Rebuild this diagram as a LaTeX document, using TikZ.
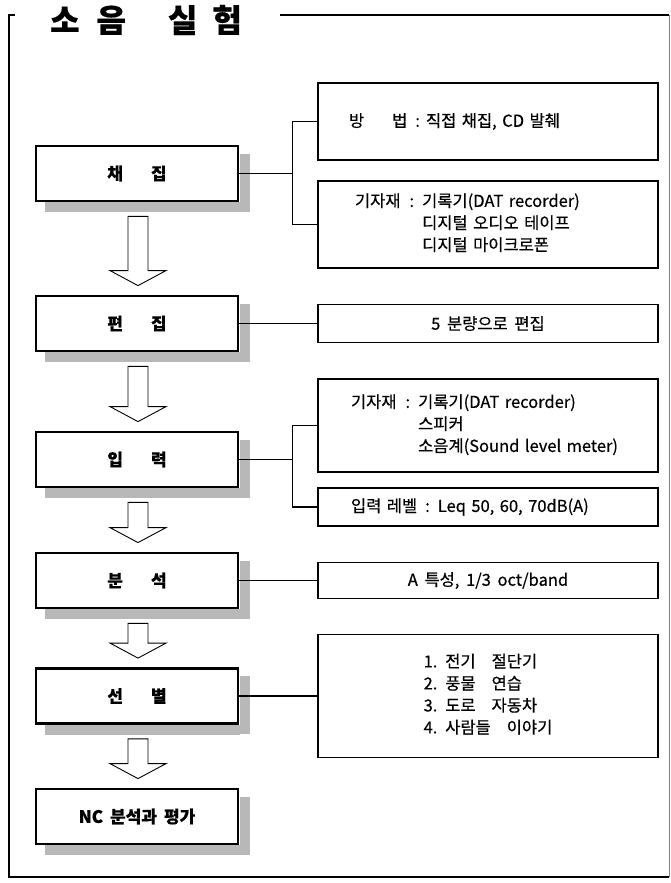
\documentclass[tikz,border=0pt]{standalone}
\usepackage{fontspec}
\setmainfont{Noto Sans CJK KR}[WordSpace=1.8,FakeBold=0.5]
\usepackage{tikz}
\usetikzlibrary{calc}
\usetikzlibrary{positioning}

\definecolor{shadowgrey}{gray}{0.72}

\newcommand{\flowarrow}[2]{%
  \draw[hollow arrow] let \p1=($(#1.south)+(1,14)$), \p2=($(#2.north)+(1,-9)$) in
    (\x1-10,\y1) -- (\x1+10,\y1) -- (\x1+10,\y2+15) -- (\x1+28,\y2+15)
    -- (\x1,\y2) -- (\x1-28,\y2+15) -- (\x1-10,\y2+15) -- cycle;}

\begin{document}
\begin{tikzpicture}[
    x=1pt, y=-1pt,
    every node/.style={font=\fontsize{16.5}{22}\selectfont},
    stagebox/.style={draw, line width=2.8pt, fill=white, minimum width=202,
      minimum height=55, font=\fontsize{17}{20}\selectfont\bfseries},
    infobox/.style={draw, line width=1.3pt, minimum width=340},
    link/.style={line width=1.3pt},
    shadowband/.style={draw=shadowgrey, line width=10pt},
    hollow arrow/.style={draw, fill=white, line width=0.9pt, line join=miter},
  ]
  \useasboundingbox (0,0) rectangle (671,883);

  % frame and title
  \node[font=\fontsize{32}{34}\selectfont\bfseries] (title) at (146,20)
    {소\hspace{17pt}음\hspace{42pt}실\hspace{15pt}험};
  \draw[line width=1.3pt] (669,15) -- (280,15);
  \draw[line width=1.3pt] (669,877) -- (9,877) -- (9,15) -- (15,15);
  \draw[line width=0.8pt, gray] (669,15) -- (669,877);

  % stages
  \node[stagebox] (chaejip)   at (137,173.5) {채\hspace{28pt}집};
  \node[stagebox] (pyeonjip)  at (137,323.5) {편\hspace{28pt}집};
  \node[stagebox] (ipryeok)   at (137,459.5) {입\hspace{28pt}력};
  \node[stagebox] (bunseok)   at (137,580.5) {분\hspace{28pt}석};
  \node[stagebox] (seonbyeol) at (137,696)   {선\hspace{28pt}별};
  \node[stagebox] (pyeongga)  at (137,816.5) {NC 분석과 평가};

  % shadows of the stages
  \foreach \ym in {173.5,323.5,459.5,580.5,696,816.5} {
    \draw[shadowband] (244.5,\ym-20) -- (244.5,\ym+38);
    \draw[shadowband] (45,\ym+33.5) -- (239.5,\ym+33.5);
  }

  % details
  \node[infobox, minimum height=77, text width=278, align=left] (bangbeop) at (488,121.5)
    {방\hspace{28pt}법\hspace{8pt}:\hspace{6pt}직접 채집, CD 발췌};
  \node[infobox, minimum height=87, text width=266, align=left] (gijajae) at (488,224.5)
    {\begin{tabular}{@{}l@{\hspace{8pt}}l@{}}
      기자재\hspace{9pt}: & 기록기(DAT recorder)\\
               & 디지털 오디오 테이프\\
               & 디지털 마이크로폰
     \end{tabular}};
  \node[infobox, minimum height=38] (bunryang) at (488,323.5) {5 분량으로 편집};
  \node[infobox, minimum height=93, text width=274, align=left] (jangbi) at (488,425.5)
    {\begin{tabular}{@{}l@{\hspace{8pt}}l@{}}
      기자재\hspace{9pt}: & 기록기(DAT recorder)\\
               & 스피커\\
               & 소음계(Sound level meter)
     \end{tabular}};
  \node[infobox, minimum height=38, text width=274, align=left] (rebel) at (488,507)
    {입력 레벨\hspace{8pt}:\hspace{8pt}Leq 50, 60, 70dB(A)};
  \node[infobox, minimum height=36] (teukseong) at (488,580.5) {A 특성, 1/3 oct/band};
  \node[infobox, minimum height=123] (sori) at (488,696)
    {\begin{tabular}{@{}l@{}}
      1. 전기\hspace{16pt}절단기\\
      2. 풍물\hspace{16pt}연습\\
      3. 도로\hspace{16pt}자동차\\
      4. 사람들\hspace{16pt}이야기
     \end{tabular}};

  % links
  \draw[link] (chaejip.east) -- ++(53,0) coordinate (fork1) |- (bangbeop.west);
  \draw[link] (fork1) |- (gijajae.west);
  \draw[link] (pyeonjip.east) -- (bunryang.west);
  \draw[link] (ipryeok.east) -- ++(53,0) coordinate (fork2) |- (jangbi.west);
  \draw[link] (fork2) |- (rebel.west);
  \draw[link] (bunseok.east) -- (teukseong.west);
  \draw[link] (seonbyeol.east) -- (sori.west);

  % arrows
  \flowarrow{chaejip}{pyeonjip}
  \flowarrow{pyeonjip}{ipryeok}
  \flowarrow{ipryeok}{bunseok}
  \flowarrow{bunseok}{seonbyeol}
  \flowarrow{seonbyeol}{pyeongga}

\end{tikzpicture}
\end{document}
